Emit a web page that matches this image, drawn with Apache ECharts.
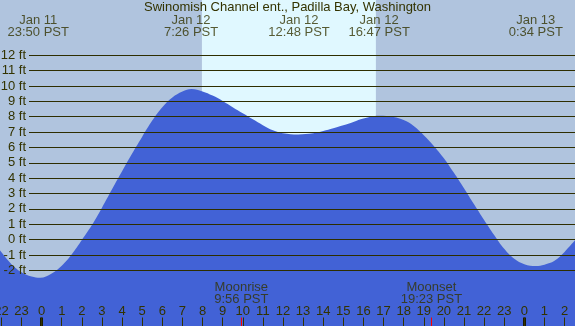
<!DOCTYPE html>
<html>
<head>
<meta charset="utf-8">
<script src="https://cdn.jsdelivr.net/npm/echarts@6/dist/echarts.min.js"></script>
<style>
html,body{margin:0;padding:0;background:#b0c4de;}
#chart{width:575px;height:326px;}
</style>
</head>
<body>
<div id="chart"></div>
<script>
// Hours relative to Jan 12 00:00 PST
const hours = [-2.07, -1.5, -1, -0.5, -0.08, 0.5, 1, 1.5, 2, 2.5, 3, 3.5, 4, 4.5, 5, 5.5, 6, 6.5, 7, 7.45,
  8, 8.5, 9, 9.5, 10, 10.5, 11, 11.5, 12, 12.75, 13.5, 14, 14.5, 15, 15.5, 16, 16.78, 17.5, 18, 18.5,
  19, 19.5, 20, 20.5, 21, 21.5, 22, 22.5, 23, 23.5, 24, 24.58, 25, 25.5, 26, 26.52];
const heights = [-0.7, -1.6, -2.12, -2.4, -2.48, -2.2, -1.7, -0.95, -0.02, 0.95, 2.08, 3.28, 4.45, 5.6, 6.7, 7.75, 8.62, 9.25, 9.64, 9.8,
  9.65, 9.38, 9.03, 8.62, 8.22, 7.83, 7.45, 7.12, 6.93, 6.85, 6.92, 7.07, 7.25, 7.45, 7.66, 7.88, 8.07, 7.98, 7.78, 7.4,
  6.8, 6.1, 5.3, 4.35, 3.35, 2.3, 1.28, 0.3, -0.6, -1.25, -1.6, -1.72, -1.63, -1.38, -0.8, -0.05];

const extremeHours = [-0.17, 7.43, 12.8, 16.78, 24.57];
const extremeLabels = ['Jan 11\n23:50 PST', 'Jan 12\n7:26 PST', 'Jan 12\n12:48 PST', 'Jan 12\n16:47 PST', 'Jan 13\n0:34 PST'];

const daylight = [7.97, 16.62];
const moonHours = [9.93, 19.38];
const moonLabels = ['Moonrise\n9:56 PST', 'Moonset\n19:23 PST'];

const tickHours = [-2,-1,0,1,2,3,4,5,6,7,8,9,10,11,12,13,14,15,16,17,18,19,20,21,22,23,24,25,26];
const tickLabels = ['22','23','0','1','2','3','4','5','6','7','8','9','10','11','12','13','14','15','16','17','18','19','20','21','22','23','0','1','2'];
const midnightHours = [0, 24];

const title = 'Swinomish Channel ent., Padilla Bay, Washington';

const TXT = '#333300';
const FONT = 'Liberation Sans, Arial, sans-serif';
const XMIN = -2.07, XMAX = 26.52;
const YMIN = -5.625, YMAX = 15.6;
const TICK_TOP = YMIN + 8.5 / 15.36; // tick length in axis units (8.5px)

const chart = echarts.init(document.getElementById('chart'), null, {renderer: 'canvas'});
const tideData = hours.map((h, i) => [h, heights[i]]);

const tickLine = (h) => [{coord: [h, YMIN]}, {coord: [h, TICK_TOP]}];

const option = {
  backgroundColor: '#b0c4de',
  animation: false,
  textStyle: {fontFamily: FONT},
  title: {
    text: title, left: 'center', top: 1, padding: 0,
    textStyle: {fontSize: 13, fontWeight: 'normal', color: TXT, fontFamily: FONT}
  },
  grid: [
    {left: 0, right: 0, top: 0, bottom: 0, containLabel: false, outerBoundsMode: 'none'},
    {left: 29, right: 0, top: 55.3, height: 215, containLabel: false, outerBoundsMode: 'none'}
  ],
  xAxis: [
    {
      type: 'value', gridIndex: 0, min: XMIN, max: XMAX, position: 'bottom', z: 10,
      axisLine: {show: false, onZero: false}, splitLine: {show: false},
      axisTick: {show: true, inside: true, length: 8.5, customValues: tickHours, lineStyle: {color: TXT, width: 1}},
      axisLabel: {
        show: true, inside: true, margin: 8, customValues: tickHours,
        color: TXT, fontSize: 13, fontFamily: FONT, hideOverlap: false,
        formatter: v => tickLabels[tickHours.indexOf(Math.round(v))]
      }
    },
    {
      type: 'value', gridIndex: 1, min: 0, max: 1, show: false,
      axisLine: {show: false, onZero: false}, axisTick: {show: false}, axisLabel: {show: false}, splitLine: {show: false}
    }
  ],
  yAxis: [
    {type: 'value', gridIndex: 0, min: YMIN, max: YMAX, show: false, axisLine: {onZero: false}},
    {
      type: 'value', gridIndex: 1, min: -2, max: 12, interval: 1, z: 10,
      axisLine: {show: false, onZero: false}, axisTick: {show: false},
      splitLine: {show: true, lineStyle: {color: '#2e2e00', width: 1}},
      axisLabel: {show: true, margin: 3, color: TXT, fontSize: 13, fontFamily: FONT, formatter: '{value} ft'}
    }
  ],
  series: [
    {
      type: 'line', xAxisIndex: 0, yAxisIndex: 0, data: [], z: 1, silent: true,
      markArea: {
        silent: true,
        itemStyle: {color: '#e0f8ff'},
        data: [[{xAxis: daylight[0]}, {xAxis: daylight[1]}]]
      }
    },
    {
      type: 'line', xAxisIndex: 0, yAxisIndex: 0, data: tideData, z: 3,
      smooth: 0.4, symbol: 'none',
      lineStyle: {width: 0},
      areaStyle: {color: '#4262d6', opacity: 1, origin: 'start'}
    },
    {
      type: 'line', xAxisIndex: 0, yAxisIndex: 0, data: [], z: 11, silent: true,
      markLine: {
        silent: true, symbol: ['none', 'none'], label: {show: false},
        data: [
          ...midnightHours.map(h => tickLine(h).map(p => Object.assign({lineStyle: {color: '#1a1a00', width: 3, type: 'solid'}}, p))),
          ...moonHours.map(h => tickLine(h).map(p => Object.assign({lineStyle: {color: '#ff0000', width: 1, type: 'solid'}}, p)))
        ]
      }
    },
    {
      type: 'scatter', xAxisIndex: 0, yAxisIndex: 0, z: 12, symbolSize: 1,
      itemStyle: {color: 'transparent'},
      data: extremeHours.map((h, i) => ({value: [h, 13.91], name: extremeLabels[i]})),
      label: {show: true, position: 'inside', formatter: p => p.name, color: TXT, fontSize: 13, lineHeight: 12, fontFamily: FONT, align: 'center', verticalAlign: 'middle'}
    },
    {
      type: 'scatter', xAxisIndex: 0, yAxisIndex: 0, z: 12, symbolSize: 1,
      itemStyle: {color: 'transparent'},
      data: moonHours.map((h, i) => ({value: [h, -3.5], name: moonLabels[i]})),
      label: {show: true, position: 'inside', formatter: p => p.name, color: TXT, fontSize: 13, lineHeight: 12, fontFamily: FONT, align: 'center', verticalAlign: 'middle'}
    }
  ]
};
chart.setOption(option);
</script>
</body>
</html>
